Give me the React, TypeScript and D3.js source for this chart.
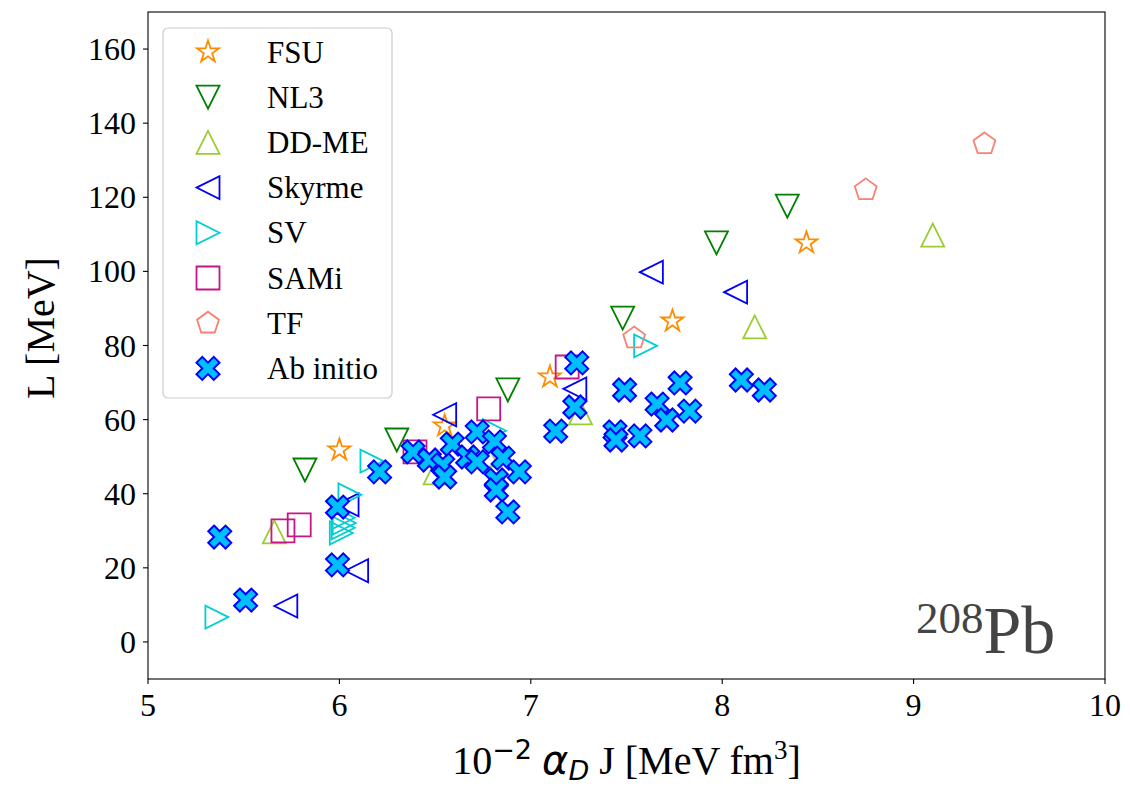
import React from "react";
import * as d3 from "d3";

// ---- data: [10^-2 alpha_D J (MeV fm^3), L (MeV)] ----
const FSU: [number, number][] = [
  [6.0, 51.8], [6.55, 58.3], [7.1, 71.5], [7.74, 86.6], [8.44, 107.7],
];
const NL3: [number, number][] = [
  [5.82, 46.4], [6.3, 54.5], [6.88, 68.0], [7.48, 87.4], [7.97, 107.7], [8.34, 117.6],
];
const DDME: [number, number][] = [
  [5.66, 29.7], [6.5, 45.6], [6.77, 50.5], [7.26, 61.8], [8.17, 85.0], [9.1, 109.8],
];
const SKYRME: [number, number][] = [
  [6.55, 61.3], [7.23, 68.3], [6.04, 37.0], [6.09, 19.2], [5.72, 9.7], [7.63, 99.8], [8.07, 94.4],
];
const SV: [number, number][] = [
  [5.36, 6.7], [7.6, 79.9], [6.17, 48.8], [6.055, 39.7], [6.02, 33.5], [6.025, 32.1],
  [6.02, 30.8], [6.01, 29.4], [6.81, 57.0],
];
const SAMI: [number, number][] = [
  [5.705, 30.0], [5.79, 31.6], [6.395, 51.3], [6.78, 62.9], [7.19, 74.2],
];
const TF: [number, number][] = [
  [7.54, 82.0], [8.75, 122.0], [9.37, 134.4],
];
const AB_INITIO: [number, number][] = [
  [5.375, 28.3], [5.51, 11.3], [5.99, 36.4], [5.99, 20.8], [6.21, 45.9], [6.385, 51.3],
  [6.47, 49.1], [6.54, 47.8], [6.55, 44.5], [6.59, 53.4], [6.67, 49.9], [6.72, 48.6],
  [6.72, 56.7], [6.81, 54.0], [6.855, 49.6], [6.94, 45.9], [6.82, 43.7], [6.82, 41.0],
  [6.88, 35.1], [7.24, 75.3], [7.23, 63.4], [7.13, 56.9], [7.44, 56.7], [7.445, 54.5],
  [7.57, 55.6], [7.49, 68.0], [7.66, 64.2], [7.78, 69.9], [7.71, 59.9], [7.83, 62.3],
  [8.1, 70.7], [8.22, 68.0],
];

const X_TICKS = [5, 6, 7, 8, 9, 10];
const Y_TICKS = [0, 20, 40, 60, 80, 100, 120, 140, 160];

type Shape = "star" | "tdown" | "tup" | "tleft" | "tright" | "square" | "pent" | "X";

const SERIES: { name: string; data: [number, number][]; shape: Shape; color: string; fill: string }[] = [
  { name: "FSU", data: FSU, shape: "star", color: "#ff8c00", fill: "none" },
  { name: "NL3", data: NL3, shape: "tdown", color: "#008000", fill: "none" },
  { name: "DD-ME", data: DDME, shape: "tup", color: "#9acd32", fill: "none" },
  { name: "Skyrme", data: SKYRME, shape: "tleft", color: "#0000ff", fill: "none" },
  { name: "SV", data: SV, shape: "tright", color: "#00ced1", fill: "none" },
  { name: "SAMi", data: SAMI, shape: "square", color: "#c71585", fill: "none" },
  { name: "TF", data: TF, shape: "pent", color: "#fa8072", fill: "none" },
  { name: "Ab initio", data: AB_INITIO, shape: "X", color: "#0000ff", fill: "#00bfff" },
];

const MS = 23;

function markerPath(shape: Shape, s: number): string {
  const h = s / 2;
  const poly = (pts: [number, number][]) =>
    "M" + pts.map((p) => `${p[0].toFixed(2)},${p[1].toFixed(2)}`).join("L") + "Z";
  switch (shape) {
    case "tdown":
      return poly([[0, h], [-h, -h], [h, -h]]);
    case "tup":
      return poly([[0, -h], [-h, h], [h, h]]);
    case "tleft":
      return poly([[-h, 0], [h, -h], [h, h]]);
    case "tright":
      return poly([[h, 0], [-h, -h], [-h, h]]);
    case "square":
      return poly([[-h, -h], [h, -h], [h, h], [-h, h]]);
    case "pent": {
      const pts: [number, number][] = [];
      for (let k = 0; k < 5; k++) {
        const a = -Math.PI / 2 + (k * 2 * Math.PI) / 5;
        pts.push([h * Math.cos(a), h * Math.sin(a)]);
      }
      return poly(pts);
    }
    case "star": {
      const pts: [number, number][] = [];
      const ri = h * 0.381966;
      for (let k = 0; k < 10; k++) {
        const a = -Math.PI / 2 + (k * Math.PI) / 5;
        const r = k % 2 === 0 ? h : ri;
        pts.push([r * Math.cos(a), r * Math.sin(a)]);
      }
      return poly(pts);
    }
    case "X": {
      const base: [number, number][] = [
        [0.25, 0], [0.5, 0.25], [0.75, 0], [1, 0.25], [0.75, 0.5], [1, 0.75],
        [0.75, 1], [0.5, 0.75], [0.25, 1], [0, 0.75], [0.25, 0.5], [0, 0.25],
      ];
      return poly(base.map((p) => [(p[0] - 0.5) * s, (p[1] - 0.5) * s]));
    }
  }
}

const W = 1130;
const H = 790;
const LEFT = 148;
const RIGHT = 1105;
const TOP = 12;
const BOTTOM = 679;

export default function App() {
  const x = d3.scaleLinear().domain([5, 10]).range([LEFT, RIGHT]);
  const y = d3.scaleLinear().domain([-10, 170]).range([BOTTOM, TOP]);
  const serif = "'Liberation Serif', 'Times New Roman', serif";
  const sans = "'DejaVu Sans', sans-serif";
  const fs = 32;
  const lfs = 31;
  const labfs = 40;

  return (
    <svg
      width={W}
      height={H}
      style={{ position: "absolute", left: 0, top: 0, display: "block", background: "#fff" }}
      fontFamily={serif}
    >
      <rect x={0} y={0} width={W} height={H} fill="#fff" />
      <defs>
        <clipPath id="plotclip">
          <rect x={LEFT} y={TOP} width={RIGHT - LEFT} height={BOTTOM - TOP} />
        </clipPath>
      </defs>

      {/* markers */}
      <g clipPath="url(#plotclip)">
        {SERIES.map((s) => (
          <g key={s.name}>
            {s.data.map((d, i) => (
              <path
                key={i}
                d={markerPath(s.shape, MS)}
                transform={`translate(${x(d[0])},${y(d[1])})`}
                fill={s.fill}
                stroke={s.color}
                strokeWidth={s.shape === "X" ? 2 : 1.8}
                strokeLinejoin="miter"
              />
            ))}
          </g>
        ))}
      </g>

      {/* frame */}
      <rect x={LEFT} y={TOP} width={RIGHT - LEFT} height={BOTTOM - TOP} fill="none" stroke="#000" strokeWidth={1.1} />

      {/* x ticks */}
      {X_TICKS.map((t) => (
        <g key={"x" + t}>
          <line x1={x(t)} x2={x(t)} y1={BOTTOM} y2={BOTTOM + 5} stroke="#000" strokeWidth={1.1} />
          <text x={x(t)} y={BOTTOM + 37} textAnchor="middle" fontSize={fs} fill="#000">
            {t}
          </text>
        </g>
      ))}
      {/* y ticks */}
      {Y_TICKS.map((t) => (
        <g key={"y" + t}>
          <line x1={LEFT - 5} x2={LEFT} y1={y(t)} y2={y(t)} stroke="#000" strokeWidth={1.1} />
          <text x={LEFT - 12} y={y(t) + 11} textAnchor="end" fontSize={fs} fill="#000">
            {t}
          </text>
        </g>
      ))}

      {/* axis labels */}
      <text
        transform={`translate(54,328) rotate(-90)`}
        textAnchor="middle"
        fontSize={labfs}
        fill="#000"
      >
        L [MeV]
      </text>
      <text x={(LEFT + RIGHT) / 2} y={774} textAnchor="middle" fontSize={labfs} fill="#000">
        <tspan>10</tspan>
        <tspan fontFamily={sans} fontSize={27} dy={-15}>
          −2
        </tspan>
        <tspan dy={15}> </tspan>
        <tspan fontFamily={sans} fontStyle="italic">α</tspan>
        <tspan fontFamily={sans} fontStyle="italic" fontSize={27} dy={6}>
          D
        </tspan>
        <tspan dy={-6}> J [MeV fm</tspan>
        <tspan fontSize={27} dy={-15}>
          3
        </tspan>
        <tspan dy={15}>]</tspan>
      </text>

      {/* 208Pb label */}
      <text x={916} y={653} fill="#444" fontFamily={serif}>
        <tspan fontSize={45} dy={-20}>208</tspan>
        <tspan fontSize={68} dy={20}>Pb</tspan>
      </text>

      {/* legend */}
      <rect x={163} y={28} width={229} height={370} rx={5} ry={5} fill="#fff" fillOpacity={0.8} stroke="#cccccc" strokeWidth={1.2} />
      {SERIES.map((s, i) => {
        const cy = 52 + i * 45.2;
        return (
          <g key={"leg" + s.name}>
            <path
              d={markerPath(s.shape, MS)}
              transform={`translate(208,${cy})`}
              fill={s.fill}
              stroke={s.color}
              strokeWidth={s.shape === "X" ? 2 : 1.8}
            />
            <text x={267} y={cy + 10.5} fontSize={lfs} fill="#000">
              {s.name}
            </text>
          </g>
        );
      })}
    </svg>
  );
}
